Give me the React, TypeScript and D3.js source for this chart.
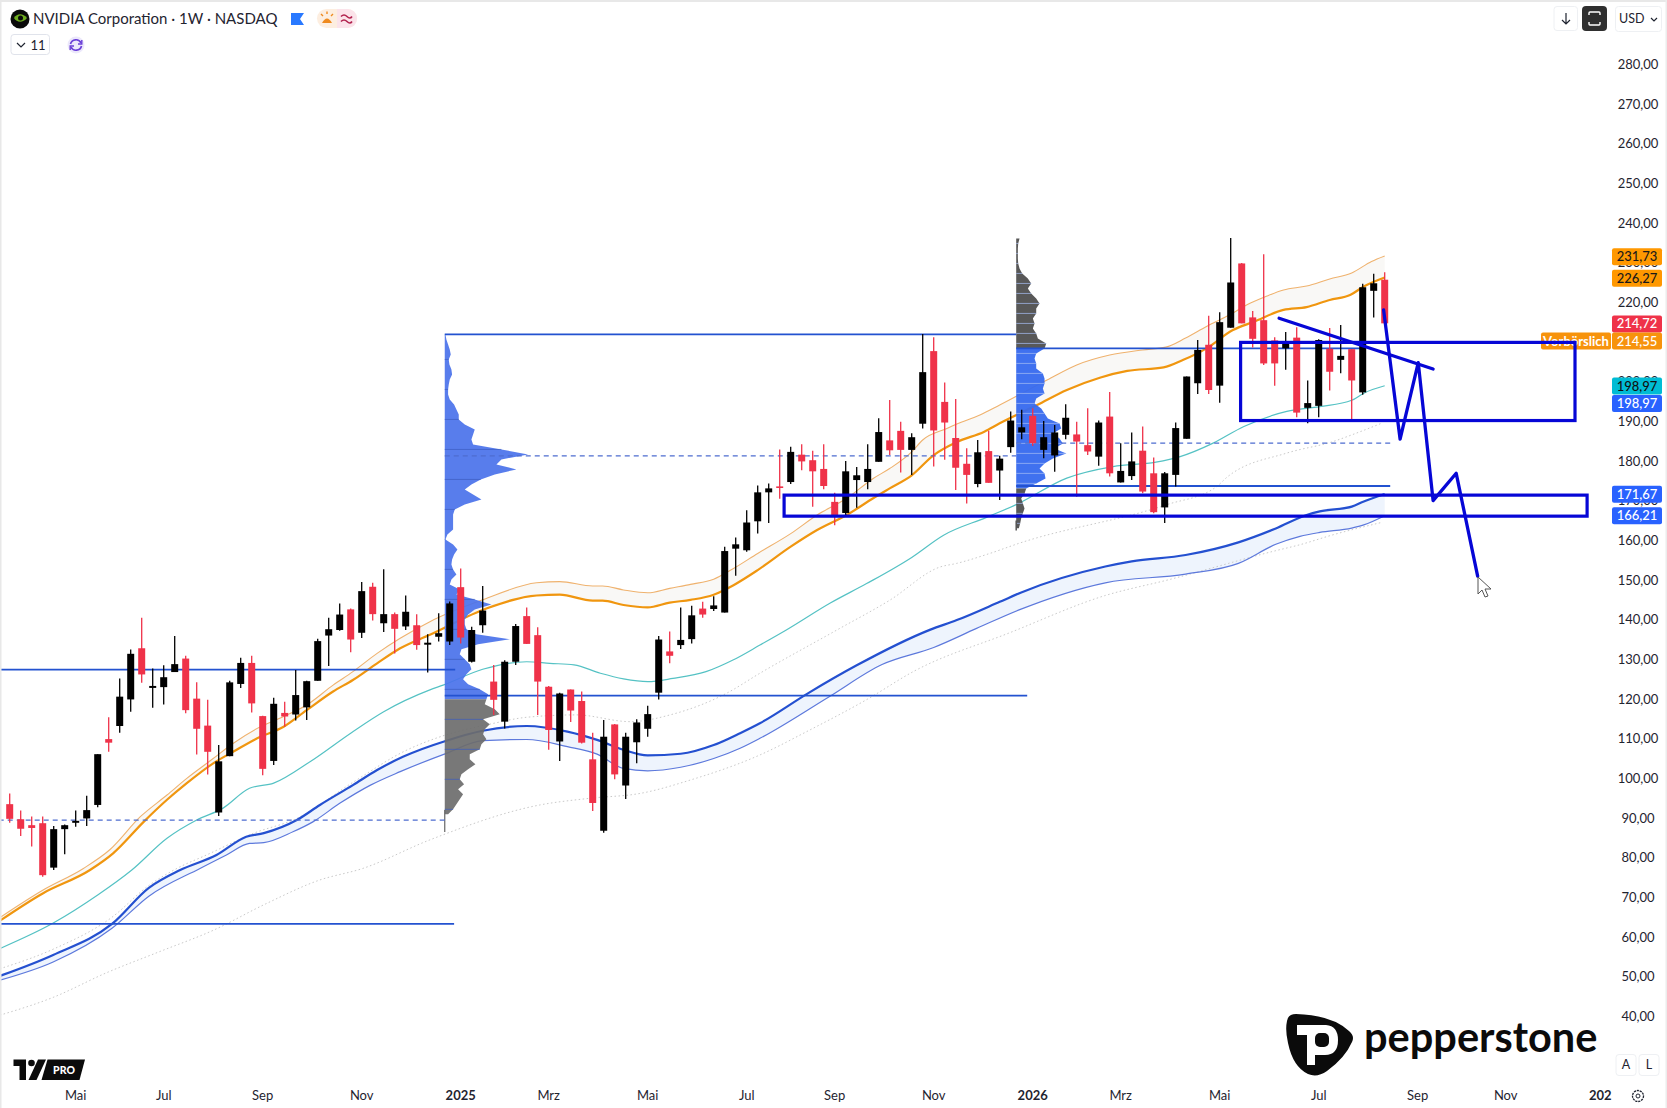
import React, { useEffect, useRef } from "react";
import * as d3 from "d3";

const W = 1667;
const H = 1108;

// weekly candles
const candleOpen = [
  93.5, 89.7, 88.2, 88.7, 77.5, 87.2, 88.8, 89.9, 93.3, 109.9,
  113.2, 119.9, 132.8, 122.8, 123.0, 126.8, 130.2, 120.1, 113.3, 91.4,
  105.6, 123.8, 129.1, 115.7, 104.4, 116.5, 116.1, 117.9, 124.6, 136.0,
  137.4, 142.6, 136.7, 148.3, 139.1, 141.4, 138.3, 138.6, 133.7, 135.7,
  134.5, 148.2, 129.4, 138.6, 124.4, 114.3, 129.4, 140.9, 136.1, 123.1,
  109.3, 122.4, 119.5, 104.8, 86.8, 113.6, 98.2, 109.1, 112.5, 121.6,
  132.0, 133.6, 135.1, 142.8, 142.7, 141.8, 157.9, 157.5, 164.8, 172.1,
  173.6, 174.7, 181.6, 180.2, 178.0, 169.7, 166.9, 175.2, 174.7, 179.8,
  185.2, 187.6, 182.8, 189.4, 207.7, 194.9, 185.8, 179.3, 174.2, 182.5,
  177.6, 183.5, 187.2, 191.4, 182.8, 181.4, 186.6, 186.7, 184.0, 181.1,
  191.2, 174.6, 176.2, 182.6, 176.9, 168.3, 176.5, 185.6, 199.6, 209.3,
  199.0, 213.6, 229.8, 216.2, 215.5, 210.4, 208.4, 211.1, 193.4, 193.9,
  208.3, 205.5, 208.2, 197.3, 222.9, 225.7,
];
const candleClose = [
  89.8, 87.3, 87.5, 75.6, 87.2, 88.2, 89.3, 92.0, 106.1, 109.0,
  120.6, 131.4, 126.2, 123.3, 125.5, 128.8, 117.2, 112.5, 106.7, 104.3,
  124.2, 129.1, 118.9, 102.4, 118.8, 115.6, 121.0, 124.5, 134.6, 137.6,
  141.3, 135.0, 147.2, 141.4, 141.4, 137.7, 142.0, 133.6, 134.2, 136.6,
  144.1, 135.5, 137.4, 142.3, 119.8, 129.4, 138.4, 133.9, 124.4, 112.2,
  121.4, 117.1, 109.0, 93.8, 110.5, 101.0, 110.5, 114.1, 116.2, 135.0,
  130.9, 134.9, 141.1, 141.3, 143.6, 157.3, 159.0, 164.5, 172.1, 173.1,
  173.2, 182.3, 179.9, 177.4, 173.7, 166.2, 177.4, 176.4, 178.0, 187.3,
  182.7, 182.8, 186.0, 202.4, 187.7, 189.7, 178.3, 176.5, 182.2, 174.5,
  180.6, 190.2, 188.5, 184.5, 186.0, 187.2, 190.9, 184.9, 182.4, 189.7,
  176.9, 177.5, 179.9, 172.3, 167.1, 176.9, 188.3, 201.3, 208.0, 197.9,
  215.0, 225.0, 214.7, 210.8, 204.6, 204.6, 209.7, 192.2, 194.6, 210.5,
  202.5, 206.5, 200.3, 223.8, 224.8, 214.7,
];
const candleHigh = [
  96.2, 91.9, 90.4, 90.4, 88.0, 88.4, 91.9, 95.6, 106.1, 115.4,
  125.2, 132.5, 140.5, 127.7, 128.5, 135.9, 130.9, 124.2, 119.8, 108.4,
  124.6, 130.4, 130.9, 115.8, 120.3, 119.3, 127.3, 124.6, 135.2, 140.5,
  144.1, 142.8, 149.5, 149.3, 152.7, 141.8, 146.1, 141.4, 136.3, 141.6,
  144.6, 152.9, 138.2, 148.5, 128.6, 129.8, 138.9, 143.1, 138.1, 123.3,
  121.6, 122.4, 121.9, 111.5, 114.7, 113.7, 111.5, 114.9, 118.3, 135.9,
  137.0, 143.1, 143.5, 144.5, 145.9, 158.4, 160.7, 167.6, 173.8, 174.3,
  182.9, 183.6, 184.2, 182.6, 184.2, 172.0, 180.0, 178.5, 184.2, 190.8,
  195.4, 189.9, 187.0, 212.0, 211.2, 199.8, 195.6, 183.2, 185.3, 187.6,
  181.3, 192.5, 192.9, 193.3, 190.1, 189.1, 194.3, 189.9, 193.3, 190.2,
  197.4, 184.5, 187.2, 188.7, 180.9, 177.2, 189.7, 201.3, 210.5, 216.6,
  217.5, 236.2, 229.9, 217.8, 232.1, 211.2, 212.5, 213.7, 200.3, 210.7,
  213.5, 214.3, 208.2, 224.7, 227.2, 227.6,
];
const candleLow = [
  88.8, 85.5, 82.8, 75.2, 76.9, 80.9, 87.8, 88.0, 92.7, 106.7,
  111.5, 116.8, 124.1, 117.8, 118.6, 126.8, 116.4, 106.0, 101.0, 90.5,
  105.6, 122.8, 116.6, 100.8, 103.4, 113.0, 114.6, 114.7, 124.6, 128.3,
  137.2, 131.8, 135.4, 139.8, 136.9, 131.5, 137.4, 132.4, 126.7, 134.5,
  133.6, 134.0, 129.2, 136.7, 116.0, 112.6, 128.6, 133.9, 116.0, 107.2,
  104.4, 114.2, 108.8, 91.8, 86.3, 99.8, 94.8, 103.8, 110.5, 119.9,
  129.0, 132.6, 134.0, 140.5, 142.2, 141.8, 151.1, 157.1, 161.7, 164.4,
  170.5, 174.2, 177.7, 168.5, 172.9, 163.8, 166.3, 168.2, 172.9, 179.8,
  181.5, 177.1, 176.5, 188.2, 178.6, 180.3, 172.7, 169.3, 173.4, 174.5,
  170.2, 182.1, 185.5, 183.8, 180.7, 177.3, 185.5, 171.0, 181.5, 178.8,
  176.1, 174.6, 175.2, 171.9, 166.8, 164.4, 173.6, 185.6, 196.9, 196.9,
  194.7, 213.6, 214.7, 208.6, 204.2, 199.0, 203.0, 191.0, 189.5, 191.0,
  197.8, 202.1, 190.4, 196.7, 216.2, 214.5,
];

type Pt = [number, number]; // [candle index, price]

const orangeUpper: Pt[] = [[-0.9,64.9],[3,71.8],[6.7,77.3],[9.1,82],[11.9,90.4],[14.3,95.8],[16.1,100],[18.5,105],[20.3,108.8],[22.5,112.6],[24.9,115.6],[27,118.5],[29.4,123.5],[31.2,126.9],[33.4,131.5],[35.5,135.3],[38.2,139.5],[43,145],[47.9,149.3],[50,149.6],[53,148.5],[53.9,148.5],[55.8,147.5],[58,146.8],[60,147.9],[61.9,148.9],[64,150.2],[65.8,152.9],[68,156.7],[71,161.7],[73.4,166.4],[76.1,170.6],[78.5,175.6],[80,178.1],[82,182.3],[83,185.3],[85.2,188.2],[86.1,189.3],[88.2,191.6],[90,194.1],[94.3,200.4],[97,204.2],[100,206.7],[103,208],[105.1,208.7],[106.9,211],[108.8,213.9],[110.6,216.4],[112.8,219.8],[114.3,221.6],[115.8,223.1],[117.9,224.1],[120,225.9],[122,227.4],[123.8,230.3],[125,231.7]];
const orangeLower: Pt[] = [[-0.9,64.1],[3,71],[7.3,76.9],[9.4,81.1],[12.2,89.1],[14.3,94.6],[16.1,98.8],[18.5,103.8],[20.3,106.7],[22.5,110.1],[24.9,113],[27,117.2],[29.4,121.9],[31.2,124.8],[33.4,129],[35.5,132.8],[38.2,136.2],[43.4,142.9],[47.9,146.1],[50,146.3],[53,144.8],[53.9,144.8],[55.8,143.7],[58,143.1],[60,144.3],[61.9,145],[64,146.3],[65.8,148.7],[68,152.5],[71,158.4],[73.4,162.6],[76.1,166.4],[78.5,170.6],[80,173.1],[82,176.4],[84,181.5],[86.1,184.8],[88.6,187.4],[90,189.5],[93.4,194.1],[96.1,197.9],[99.1,201],[101.6,202.7],[104.9,203.6],[106.7,205.5],[108.8,208.4],[111.2,213],[113.1,215.1],[115.8,218.1],[117.9,218.8],[120,220.6],[121.9,221.9],[123.1,224],[125,226.27]];
const teal: Pt[] = [[-0.9,57.1],[4,63.6],[8,70.6],[11.1,76.9],[14.3,84.9],[17,89.5],[19.4,92.5],[21.8,97.5],[24,98.8],[27.3,104.2],[31,111.4],[34,116.8],[38.2,122.3],[39.4,123.5],[43,127.5],[47,129.4],[49.1,129],[51.3,128.6],[53.7,126.5],[55.8,125.1],[58,124.4],[60.3,125.2],[63.3,126.9],[65.8,129.9],[68.2,133.6],[70.6,137.4],[74.6,144.2],[77.9,149.1],[82,155.7],[84.9,161.3],[88.8,165.8],[91.5,169],[96.1,175.7],[100.3,178.6],[104.2,179.7],[106.4,181.1],[109.4,184.5],[112.2,188.7],[116.1,192.5],[119.1,193.7],[122,195.3],[123.1,197.1],[125,198.97]];
const blueUpper: Pt[] = [[-0.9,50.2],[3.95,55.5],[9.3,63.3],[12.65,72.4],[15.5,76.9],[18.8,80.7],[21.5,85.3],[23.1,86.2],[26.1,89.5],[28.2,93.3],[31.2,98.3],[33.4,102.1],[35.8,105.5],[39.7,109.5],[43,112],[47,113.2],[50.7,111.8],[53.4,109.7],[55.8,107.2],[58,105.8],[61,106.2],[64,108.4],[66.4,111.4],[68.2,113.9],[72.6,121.5],[77,128.5],[83.7,137.5],[86.1,139.9],[90,144.5],[91.9,146.8],[99.6,153.4],[102,154.7],[106.9,156.3],[111.7,159.5],[115.1,163],[117.9,166.4],[119.1,167.3],[122,168.5],[123.1,169.8],[125,171.67]];
const blueLower: Pt[] = [[-0.9,49.1],[3.95,53.7],[9.3,62.2],[12.65,70.3],[17.3,77.3],[19.7,80.7],[21.8,83.6],[23.1,83.8],[25.8,86.6],[27.6,89.1],[30,93.7],[32.8,98.3],[35.5,101.7],[39.7,106.3],[43,109.5],[47,109.8],[50.7,108],[53.4,106.1],[55.8,102.5],[58,101.9],[61,102.8],[64,105],[66.4,107.6],[68.2,110.1],[74.5,120.6],[79.3,128.7],[84,133],[87.9,137.8],[91.7,142.4],[99.6,149.3],[106.9,151.5],[111.7,154.2],[115.1,159],[117.3,161],[119.1,162],[122,163.1],[123.1,163.9],[125,166.21]];
const dottedUpper: Pt[] = [[-0.9,52],[4,57],[9.3,65],[12.65,73],[15.2,77.3],[17.9,80.7],[22.2,86.2],[26.1,89.9],[31.2,99],[36,107],[39.7,111],[43.7,113.7],[47,115.4],[51.5,116],[56.4,114.3],[60.3,116.2],[65.2,121.5],[68.2,126.5],[75.2,137.4],[80,144.9],[84.6,153.3],[86.1,154.2],[89.1,156.7],[91.7,159.2],[105.2,169],[109.7,173.5],[110.7,176],[116.1,182],[120.3,184.9],[122.4,187],[124.7,189.5]];
const dottedLower: Pt[] = [[-0.9,40.3],[3.95,44.8],[8.8,51],[13.6,56.3],[18.5,61.7],[23.3,68.4],[28.1,74.3],[32.1,77.3],[38.2,84.5],[48.2,93.3],[52.8,95],[57.3,96.2],[61.9,99.6],[68.2,105.9],[72.6,112],[78,120],[82.2,127],[90.9,136.7],[99.6,146.1],[105.4,150.1],[115.1,157.4],[117.3,158.9],[120.3,161.4],[124.7,164.5]];

// volume profile rows, top row first (arbitrary volume units)
const profile1Top = 211.9;
const profile1Split = 120.85;
const profile1Volumes = [
  2, 5, 10, 15, 18, 12, 14, 20, 22, 15, 12, 10, 10, 15, 28, 35, 42, 42, 60, 90, 85, 80, 85, 170, 250, 170, 155, 215, 150, 108,
  80, 60, 85, 110, 60, 30, 25, 25, 25, 25, 8, 2, 25, 38, 28, 22, 20, 25, 35, 20, 15, 45, 35, 90, 140, 90, 70, 60, 60, 65,
  95, 195, 100, 50, 45, 60, 75, 80, 65, 55, 70, 105, 130, 125, 120, 150, 165, 115, 135, 120, 115, 125, 110, 105, 75, 75, 92, 70, 50, 45,
  58, 40, 55, 45, 35, 25, 10,
];
const profile2Top = 236.1;
const profile2SplitHigh = 208.4;
const profile2SplitLow = 173.5;
const profile2Volumes = [
  10, 6, 5, 5, 5, 6, 10, 18, 35, 45, 35, 45, 60, 70, 60, 60, 50, 55, 50, 60, 65, 90,
  85, 60, 55, 60, 60, 80, 85, 85, 80, 85, 60, 55, 75, 85, 95, 130, 135, 110, 130, 140, 115, 150, 110, 85, 70, 85, 88, 60,
  30, 25, 15, 20, 25, 20, 15, 12, 8,
];
const profileStep = 1.26;

// horizontal rays: [from index, to index, price]
const solidLevels: [number, number, number][] = [
  [-1, 40.5, 127.4],
  [39.55, 91.5, 211.9],
  [91.5, 122.9, 208.4],
  [39.55, 92.5, 120.85],
  [91.5, 125.5, 173.7],
  [-1, 40.4, 63.3],
];
const dashedLevels: [number, number, number][] = [
  [-1, 39.8, 89.5],
  [39.55, 91.5, 181.3],
  [91.5, 125.5, 184.5],
];

// hand drawn forecast
const boxes: [number, number, number, number][] = [
  [111.9, 142.3, 209.9, 190.2],
  [70.4, 143.4, 171.4, 166.1],
];
const trendLine: Pt[] = [[115.4, 216], [129.4, 203.2]];
const forecastPath: Pt[] = [[124.9, 218.1], [126.4, 185.5], [128.05, 204.8], [129.4, 170], [131.5, 176.9], [133.45, 151]];

const priceTicks = d3.range(40, 290, 10);
const monthTicks: [number, string, boolean][] = [
  [6, "Mai", false], [14, "Jul", false], [23, "Sep", false], [32, "Nov", false], [41, "2025", true],
  [49, "Mrz", false], [58, "Mai", false], [67, "Jul", false], [75, "Sep", false], [84, "Nov", false],
  [93, "2026", true], [101, "Mrz", false], [110, "Mai", false], [119, "Jul", false], [128, "Sep", false],
  [136, "Nov", false], [144.6, "202", true],
];
// axis badges: value shown, centre price slot, fill, text colour
const priceBadges: [string, number, string, string][] = [
  ["231,73", 231.5, "#ff9800", "#1a1a1a"],
  ["226,27", 226.05, "#ff9800", "#1a1a1a"],
  ["214,72", 214.55, "#ef3249", "#ffffff"],
  ["214,55", 210.25, "#f7930c", "#ffffff"],
  ["198,97", 198.9, "#00bcd4", "#111111"],
  ["198,97", 194.5, "#2962ff", "#ffffff"],
  ["171,67", 171.6, "#2962ff", "#ffffff"],
  ["166,21", 166.2, "#2962ff", "#ffffff"],
];

const FONT = "Lato, 'Open Sans', sans-serif";
const UP = "#000000";
const DOWN = "#ef3249";

export default function App() {
  const svgRef = useRef<SVGSVGElement | null>(null);

  useEffect(() => {
    if (!svgRef.current) return;
    const svg = d3.select(svgRef.current);
    svg.selectAll("*").remove();

    const x = d3.scaleLinear().domain([0, 125]).range([9.7, 1384.7]);
    const y = d3.scaleLinear().domain([40, 280]).range([1016.4, 64.3]);

    svg.append("rect").attr("width", W).attr("height", H).attr("fill", "#ffffff");

    const defs = svg.append("defs");
    defs.append("clipPath").attr("id", "pane").append("rect").attr("x", 1).attr("y", 0).attr("width", 1611).attr("height", 1085);

    const pane = svg.append("g").attr("clip-path", "url(#pane)");

    const line = d3.line<Pt>().x((d) => x(d[0])).y((d) => y(d[1])).curve(d3.curveMonotoneX);

    const band = (upper: Pt[], lower: Pt[], fill: string) => {
      const a = line(upper) || "";
      const b = line([...lower].reverse()) || "";
      pane.append("path").attr("d", a + "L" + b.slice(1) + "Z").attr("fill", fill);
    };
    band(orangeUpper, orangeLower, "#f9f8f6");
    band(blueUpper, blueLower, "#eef4fd");

    const drawLine = (pts: Pt[], stroke: string, width: number, dash?: string) => {
      const p = pane.append("path").attr("d", line(pts)).attr("fill", "none").attr("stroke", stroke).attr("stroke-width", width);
      if (dash) p.attr("stroke-dasharray", dash);
    };
    drawLine(dottedUpper, "#c9c9c9", 1, "1.5 2.5");
    drawLine(dottedLower, "#c9c9c9", 1, "1.5 2.5");
    drawLine(teal, "#55c2c4", 1.2);
    drawLine(blueLower, "#5d79dc", 1.2);
    drawLine(blueUpper, "#2450d0", 2.2);
    drawLine(orangeUpper, "#efb26e", 1.1);
    drawLine(orangeLower, "#f0960f", 2.2);

    // volume profiles sit over the averages but behind the candles
    const vol = d3.scaleLinear().domain([0, 300]).range([0, 100]);
    const drawProfile = (
      volumes: number[],
      top: number,
      base: number,
      colorAt: (p: number) => string,
      opacity: number,
      stripe: string,
      every: number
    ) => {
      const rows = volumes.map((v, i) => ({ v, p: top - i * profileStep }));
      const area = d3
        .area<{ v: number; p: number }>()
        .x0(base)
        .x1((d) => base + vol(d.v))
        .y((d) => y(d.p));
      let start = 0;
      for (let i = 1; i <= rows.length; i++) {
        if (i === rows.length || colorAt(rows[i].p) !== colorAt(rows[start].p)) {
          pane
            .append("path")
            .attr("d", area(rows.slice(start, Math.min(i + 1, rows.length))))
            .attr("fill", colorAt(rows[start].p))
            .attr("opacity", opacity);
          start = i;
        }
      }
      rows.forEach((r, i) => {
        if (i % every !== every - 1) return;
        pane
          .append("line")
          .attr("x1", base)
          .attr("x2", base + vol(r.v))
          .attr("y1", y(r.p))
          .attr("y2", y(r.p))
          .attr("stroke", stripe)
          .attr("stroke-width", 0.7);
      });
    };
    drawProfile(profile1Volumes, profile1Top, x(39.55), (p) => (p > profile1Split ? "#4a72ea" : "#6d6d6d"), 0.92, "#3c5cc0", 6);
    drawProfile(
      profile2Volumes,
      profile2Top,
      x(91.5),
      (p) => (p < profile2SplitHigh && p > profile2SplitLow ? "#3669ee" : "#4f4f4f"),
      0.95,
      "#a8bff5",
      2
    );
    // thin stem below the first profile
    pane.append("line").attr("x1", x(39.55)).attr("x2", x(39.55)).attr("y1", y(92)).attr("y2", y(86.5)).attr("stroke", "#666").attr("stroke-width", 1.2);
    pane.append("line").attr("x1", x(91.5)).attr("x2", x(91.5)).attr("y1", y(165)).attr("y2", y(162.5)).attr("stroke", "#555").attr("stroke-width", 1.5);

    solidLevels.forEach(([a, b, p]) => {
      pane.append("line").attr("x1", x(a)).attr("x2", x(b)).attr("y1", y(p)).attr("y2", y(p)).attr("stroke", "#2352d0").attr("stroke-width", 1.8);
    });
    dashedLevels.forEach(([a, b, p]) => {
      pane.append("line").attr("x1", x(a)).attr("x2", x(b)).attr("y1", y(p)).attr("y2", y(p)).attr("stroke", "#4d6ccf").attr("stroke-width", 1.2).attr("stroke-dasharray", "5 4");
    });

    // candles
    const candleIdx = d3.range(candleOpen.length);
    const isDown = (i: number) => candleClose[i] < candleOpen[i];
    const candles = pane.append("g");
    candles
      .selectAll("line")
      .data(candleIdx)
      .enter()
      .append("line")
      .attr("x1", (i) => x(i))
      .attr("x2", (i) => x(i))
      .attr("y1", (i) => y(candleHigh[i]))
      .attr("y2", (i) => y(candleLow[i]))
      .attr("stroke", (i) => (isDown(i) ? DOWN : UP))
      .attr("stroke-width", 1.3);
    candles
      .selectAll("rect")
      .data(candleIdx)
      .enter()
      .append("rect")
      .attr("x", (i) => x(i) - 3.5)
      .attr("width", 7)
      .attr("y", (i) => y(Math.max(candleOpen[i], candleClose[i])))
      .attr("height", (i) => Math.max(1.5, Math.abs(y(candleOpen[i]) - y(candleClose[i]))))
      .attr("fill", (i) => (isDown(i) ? DOWN : UP));

    // axis texts go under the drawings and badges
    const axis = svg.append("g").attr("font-family", FONT).attr("fill", "#1f2430");
    axis
      .selectAll("text.price")
      .data(priceTicks)
      .enter()
      .append("text")
      .attr("x", 1638)
      .attr("y", (d) => y(d))
      .attr("dy", "0.35em")
      .attr("text-anchor", "middle")
      .attr("font-size", 13)
      .text((d) => d3.format(".2f")(d).replace(".", ","));
    axis
      .selectAll("text.month")
      .data(monthTicks)
      .enter()
      .append("text")
      .attr("x", (d) => x(d[0]))
      .attr("y", 1095.7)
      .attr("dy", "0.35em")
      .attr("text-anchor", "middle")
      .attr("font-size", 13)
      .attr("font-weight", (d) => (d[2] ? 700 : 400))
      .text((d) => d[1]);

    // Vorbörslich tag
    svg.append("rect").attr("x", 1541).attr("y", y(210.25) - 8.5).attr("width", 70).attr("height", 17).attr("rx", 2).attr("fill", "#f7930c");
    svg.append("text").attr("x", 1576).attr("y", y(210.25)).attr("dy", "0.35em").attr("text-anchor", "middle")
      .attr("font-family", FONT).attr("font-size", 13).attr("font-weight", 700).attr("fill", "#fff").text("Vorbörslich");

    priceBadges.forEach(([label, slot, fill, ink]) => {
      svg.append("rect").attr("x", 1612).attr("y", y(slot) - 8.5).attr("width", 50).attr("height", 17).attr("rx", 2).attr("fill", fill);
      svg.append("text").attr("x", 1637).attr("y", y(slot)).attr("dy", "0.35em").attr("text-anchor", "middle")
        .attr("font-family", FONT).attr("font-size", 13).attr("font-weight", 500).attr("fill", ink).text(label);
    });

    // forecast drawings
    const ink = "#0606d6";
    const straight = d3.line<Pt>().x((d) => x(d[0])).y((d) => y(d[1]));
    boxes.forEach(([a, b, pTop, pBot]) => {
      svg.append("rect").attr("x", x(a)).attr("y", y(pTop)).attr("width", x(b) - x(a)).attr("height", y(pBot) - y(pTop))
        .attr("fill", "none").attr("stroke", ink).attr("stroke-width", 3.2);
    });
    svg.append("path").attr("d", straight(trendLine)).attr("fill", "none").attr("stroke", ink).attr("stroke-width", 3.3).attr("stroke-linecap", "round");
    svg.append("path").attr("d", straight(forecastPath)).attr("fill", "none").attr("stroke", ink).attr("stroke-width", 3.3).attr("stroke-linejoin", "round").attr("stroke-linecap", "round");

    // mouse cursor
    svg.append("path").attr("d", "M1478 577 L1478 594 L1482 590 L1485 597 L1488 596 L1485 589 L1491 589 Z")
      .attr("fill", "#fff").attr("stroke", "#555").attr("stroke-width", 1);

    // window frame
    svg.append("rect").attr("x", 0).attr("y", 0).attr("width", W).attr("height", 2).attr("fill", "#e8e8e8");
    svg.append("rect").attr("x", 0).attr("y", 0).attr("width", 1.5).attr("height", H).attr("fill", "#e8e8e8");
    svg.append("rect").attr("x", 1665.5).attr("y", 0).attr("width", 1.5).attr("height", H).attr("fill", "#ececec");

    // header
    const head = svg.append("g").attr("font-family", FONT);
    head.append("circle").attr("cx", 20).attr("cy", 19).attr("r", 9.5).attr("fill", "#0a0a0a");
    head.append("path").attr("d", "M14 18 C17 13 23 13 27 18 C23 23 17 23 14 18 Z").attr("fill", "#6fae1f");
    head.append("circle").attr("cx", 20.5).attr("cy", 18).attr("r", 2.5).attr("fill", "#0a0a0a");
    head.append("text").attr("x", 33).attr("y", 19).attr("dy", "0.36em").attr("font-size", 15).attr("fill", "#1f2430").text("NVIDIA Corporation · 1W · NASDAQ");
    head.append("path").attr("d", "M291 13 H304 L300 19 L304 25 H291 Z").attr("fill", "#2979ff");
    head.append("rect").attr("x", 317).attr("y", 9).attr("width", 40).attr("height", 19).attr("rx", 9.5).attr("fill", "#fdeee0");
    head.append("path").attr("d", "M337 9 H347.5 A9.5 9.5 0 0 1 347.5 28 H337 Z").attr("fill", "#fbe3ea");
    head.append("path").attr("d", "M322 23 Q327 14 332 23 Z").attr("fill", "#ef8a1e");
    head.append("path").attr("d", "M327 11.5 V14 M321 14 L323 16 M333 14 L331 16").attr("stroke", "#ef8a1e").attr("stroke-width", 1.4);
    head.append("path").attr("d", "M341 16.5 Q344 13.5 347 16.5 T352 16.5 M341 21.5 Q344 18.5 347 21.5 T352 21.5").attr("fill", "none").attr("stroke", "#b1224e").attr("stroke-width", 1.6);

    head.append("rect").attr("x", 11).attr("y", 34.5).attr("width", 38.5).attr("height", 20).attr("rx", 3).attr("fill", "#fff").attr("stroke", "#e0e3eb");
    head.append("path").attr("d", "M17 43 L21 47 L25 43").attr("fill", "none").attr("stroke", "#1f2430").attr("stroke-width", 1.2);
    head.append("text").attr("x", 38).attr("y", 45).attr("dy", "0.35em").attr("text-anchor", "middle").attr("font-size", 13).attr("fill", "#1f2430").text("11");
    head.append("circle").attr("cx", 76).attr("cy", 45).attr("r", 8.5).attr("fill", "#ece8fb");
    head.append("path").attr("d", "M70.5 44 A5.6 5.6 0 0 1 81 43 M81.5 46 A5.6 5.6 0 0 1 71 47").attr("fill", "none").attr("stroke", "#6a3fd8").attr("stroke-width", 1.7);
    head.append("path").attr("d", "M81.8 40 V44 H78 M70.2 50 V46 H74").attr("fill", "none").attr("stroke", "#6a3fd8").attr("stroke-width", 1.4);

    // top right buttons
    head.append("rect").attr("x", 1554).attr("y", 6.5).attr("width", 23.5).attr("height", 24).attr("rx", 3).attr("fill", "#fff").attr("stroke", "#eef0f3");
    head.append("path").attr("d", "M1566 13 V24 M1562 20 L1566 24 L1570 20").attr("fill", "none").attr("stroke", "#1f2430").attr("stroke-width", 1.2);
    head.append("rect").attr("x", 1582).attr("y", 6).attr("width", 25).attr("height", 25).attr("rx", 4).attr("fill", "#2f2f2f");
    head.append("path").attr("d", "M1589 15 V13 Q1589 12 1590 12 H1599 Q1600 12 1600 13 V15 M1589 22 V24 Q1589 25 1590 25 H1599 Q1600 25 1600 24 V22").attr("fill", "none").attr("stroke", "#fff").attr("stroke-width", 1.4);
    head.append("rect").attr("x", 1615.5).attr("y", 6.5).attr("width", 46).attr("height", 25).attr("rx", 3).attr("fill", "#fff").attr("stroke", "#eef0f3");
    head.append("text").attr("x", 1619).attr("y", 19).attr("dy", "0.35em").attr("font-size", 12.5).attr("fill", "#1f2430").text("USD");
    head.append("path").attr("d", "M1651 18 L1654 21 L1657 18").attr("fill", "none").attr("stroke", "#1f2430").attr("stroke-width", 1.2);

    // bottom right controls
    [["A", 1626], ["L", 1649]].forEach(([t, cx]) => {
      head.append("rect").attr("x", (cx as number) - 10).attr("y", 1054.5).attr("width", 20).attr("height", 21).attr("rx", 3).attr("fill", "#fff").attr("stroke", "#eef0f3");
      head.append("text").attr("x", cx as number).attr("y", 1065).attr("dy", "0.35em").attr("text-anchor", "middle").attr("font-size", 12.5).attr("fill", "#1f2430").text(t as string);
    });
    head.append("circle").attr("cx", 1638).attr("cy", 1096).attr("r", 5.5).attr("fill", "none").attr("stroke", "#1f2430").attr("stroke-width", 1.3).attr("stroke-dasharray", "2.2 0.8");
    head.append("circle").attr("cx", 1638).attr("cy", 1096).attr("r", 2).attr("fill", "none").attr("stroke", "#1f2430").attr("stroke-width", 1);

    // TradingView PRO mark
    const tv = svg.append("g");
    tv.append("path").attr("d", "M13.5 1059.5 H26 V1080 H19.5 V1066 H13.5 Z").attr("fill", "#0b0b0b");
    tv.append("circle").attr("cx", 31.5).attr("cy", 1063).attr("r", 3.3).attr("fill", "#0b0b0b");
    tv.append("path").attr("d", "M38 1059.5 H46 L36.5 1080 H28.5 Z").attr("fill", "#0b0b0b");
    tv.append("path").attr("d", "M47.5 1059.5 H85 L79.5 1080 H41.5 Z").attr("fill", "#0b0b0b");
    tv.append("text").attr("x", 64).attr("y", 1070).attr("dy", "0.35em").attr("text-anchor", "middle").attr("font-family", FONT).attr("font-size", 10.5).attr("font-weight", 900).attr("fill", "#fff").text("PRO");

    // Pepperstone mark
    const pep = svg.append("g");
    pep.append("path")
      .attr("d", "M1287 1021 Q1288 1014 1296 1014 Q1332 1015 1349 1031 Q1355 1036 1352 1042 Q1345 1058 1327 1071 Q1317 1078 1308 1074 Q1293 1067 1288 1043 Q1285 1030 1287 1021 Z")
      .attr("fill", "#0b0b0b");
    pep.append("path")
      .attr("d", "M1297 1025 H1326 Q1338 1026 1338 1040 Q1338 1055 1325 1055 H1315 V1065 H1307 V1035 H1297 Z")
      .attr("fill", "#fff");
    pep.append("rect").attr("x", 1315).attr("y", 1033).attr("width", 14).attr("height", 14).attr("rx", 5).attr("fill", "#0b0b0b");
    pep.append("text").attr("x", 1364).attr("y", 1052).attr("font-family", "Lato, sans-serif").attr("font-weight", 700).attr("font-size", 41.5).attr("fill", "#0b0b0b").text("pepperstone");
  }, []);

  return <svg ref={svgRef} width={W} height={H} style={{ position: "absolute", left: 0, top: 0 }} />;
}
